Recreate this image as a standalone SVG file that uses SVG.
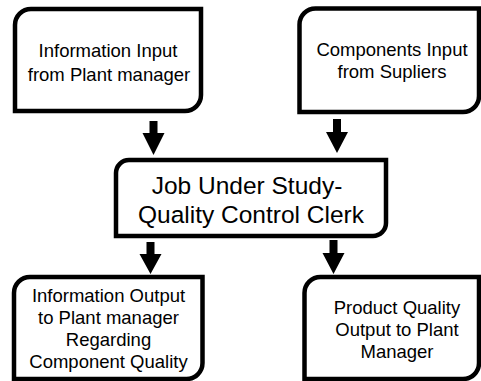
<svg xmlns="http://www.w3.org/2000/svg" width="481" height="381" viewBox="0 0 481 381">
<style>
.box{fill:#fff;stroke:#000;stroke-width:4.5;stroke-linejoin:miter}
.arr{fill:#000;stroke:none}
.t{font-family:"Liberation Sans",Arial,sans-serif;font-size:18.5px;fill:#000;text-anchor:middle}
.tl{font-family:"Liberation Sans",Arial,sans-serif;font-size:24.5px;fill:#000;text-anchor:middle}
</style>
<rect width="481" height="381" fill="#fff"/>
<g id="node-info-input">
<path class="box" d="M15,25 A16,16 0 0 1 31,9 H201 V95 A16,16 0 0 1 185,111 H15 Z"/>
<text class="t" x="108" y="57">Information Input</text>
<text class="t" x="109" y="81">from Plant manager</text>
</g>
<g id="node-components-input">
<path class="box" d="M299.5,24.5 A16,16 0 0 1 315.5,8.5 H479 V96 A16,16 0 0 1 463,112 H299.5 Z"/>
<text class="t" x="392" y="56">Components Input</text>
<text class="t" x="392" y="78">from Supliers</text>
</g>
<g id="node-job">
<path class="box" d="M116,173 A13,13 0 0 1 129,160 H386 V223 A13,13 0 0 1 373,236 H116 Z"/>
<text class="tl" x="247" y="194">Job Under Study-</text>
<text class="tl" x="251" y="223">Quality Control Clerk</text>
</g>
<g id="node-info-output">
<path class="box" d="M14,293 A16,16 0 0 1 30,277 H202.5 V363 A16,16 0 0 1 186.5,379 H14 Z"/>
<text class="t" x="108.5" y="301.5">Information Output</text>
<text class="t" x="108.5" y="323.5">to Plant manager</text>
<text class="t" x="108.5" y="345.5">Regarding</text>
<text class="t" x="108.5" y="367.5">Component Quality</text>
</g>
<g id="node-product-output">
<path class="box" d="M304.5,293 A16,16 0 0 1 320.5,277 H479 V363 A16,16 0 0 1 463,379 H304.5 Z"/>
<text class="t" x="397" y="313.5">Product Quality</text>
<text class="t" x="397" y="335.5">Output to Plant</text>
<text class="t" x="397" y="357.5">Manager</text>
</g>
<g id="connectors">
<polygon class="arr" points="149.5,121 157.5,121 157.5,133 164.5,133 153.5,155 142.5,133 149.5,133"/>
<polygon class="arr" points="333,119 341,119 341,132 348,132 337,153 326,132 333,132"/>
<polygon class="arr" points="146.5,242 154.5,242 154.5,254 161.5,254 150.5,274 139.5,254 146.5,254"/>
<polygon class="arr" points="329.5,240 337.5,240 337.5,253 344.5,253 333.5,274 322.5,253 329.5,253"/>
</g>
</svg>
